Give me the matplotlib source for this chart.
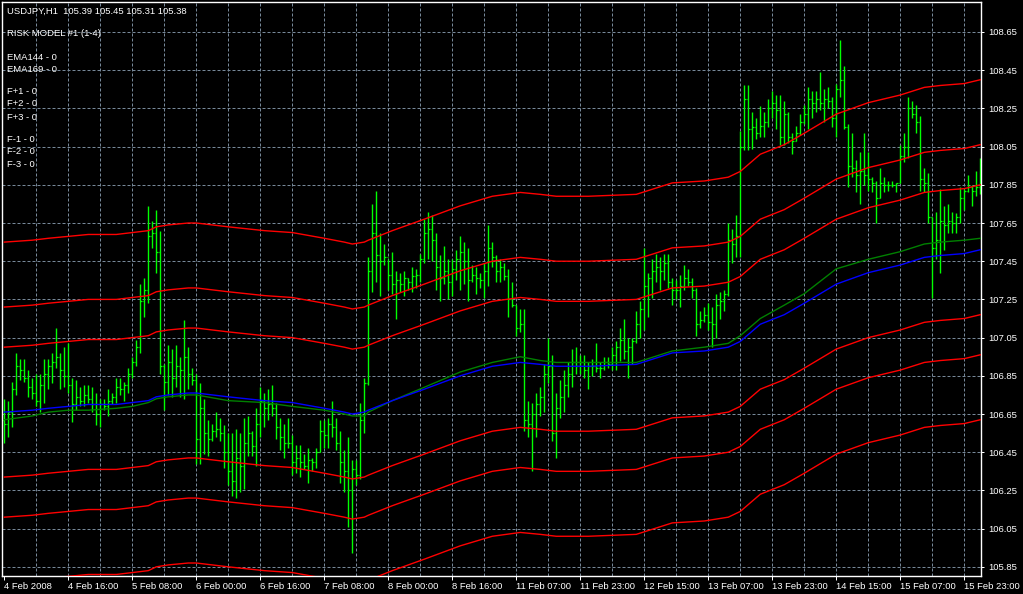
import matplotlib
matplotlib.use('Agg')

import matplotlib.pyplot as plt
import numpy as np

# USDJPY H1 bars (one value per hourly bar)
highs = [
    106.73, 106.72, 106.82, 106.97, 106.94, 106.94, 106.88, 106.84, 106.86, 106.86, 106.94, 106.94, 106.97, 107.10, 106.97, 107.00,
    107.02, 106.84, 106.83, 106.79, 106.80, 106.80, 106.79, 106.76, 106.73, 106.73, 106.78, 106.76, 106.84, 106.84, 106.82, 106.89,
    106.95, 107.04, 107.33, 107.36, 107.74, 107.66, 107.72, 107.61, 106.91, 107.01, 106.99, 107.01, 106.95, 107.14, 107.00, 106.89,
    106.86, 106.81, 106.73, 106.62, 106.60, 106.66, 106.63, 106.59, 106.55, 106.55, 106.57, 106.55, 106.63, 106.64, 106.56, 106.68,
    106.79, 106.76, 106.78, 106.80, 106.71, 106.63, 106.60, 106.63, 106.54, 106.49, 106.49, 106.44, 106.47, 106.42, 106.47, 106.62,
    106.62, 106.63, 106.72, 106.63, 106.56, 106.46, 106.53, 106.41, 106.41, 106.71, 106.84, 107.47, 107.75, 107.82, 107.60, 107.54,
    107.46, 107.50, 107.40, 107.39, 107.40, 107.36, 107.42, 107.41, 107.49, 107.67, 107.71, 107.69, 107.60, 107.48, 107.53, 107.46,
    107.46, 107.51, 107.58, 107.55, 107.52, 107.43, 107.42, 107.39, 107.44, 107.64, 107.55, 107.48, 107.46, 107.44, 107.41, 107.34,
    107.22, 107.20, 107.20, 106.72, 106.71, 106.76, 106.79, 106.91, 107.05, 106.96, 106.76, 106.83, 106.88, 106.92, 106.99, 107.00,
    106.96, 106.96, 106.92, 106.94, 107.02, 106.92, 106.95, 106.95, 107.00, 107.03, 107.10, 107.15, 107.05, 107.05, 107.19, 107.24,
    107.52, 107.39, 107.46, 107.49, 107.47, 107.49, 107.49, 107.36, 107.35, 107.38, 107.43, 107.41, 107.36, 107.31, 107.19, 107.21,
    107.23, 107.21, 107.28, 107.29, 107.30, 107.65, 107.62, 107.69, 108.13, 108.37, 108.37, 108.23, 108.20, 108.26, 108.23, 108.30,
    108.34, 108.32, 108.32, 108.29, 108.23, 108.12, 108.16, 108.22, 108.27, 108.36, 108.34, 108.34, 108.44, 108.35, 108.36, 108.31,
    108.38, 108.61, 108.47, 108.17, 108.12, 107.98, 108.02, 108.12, 108.02, 107.89, 107.87, 107.94, 107.89, 107.87, 107.87, 107.86,
    108.06, 108.12, 108.31, 108.29, 108.27, 108.21, 107.94, 107.91, 107.68, 107.71, 107.83, 107.74, 107.75, 107.71, 107.70, 107.84,
    107.83, 107.90, 107.85, 107.92, 107.99,
]
lows = [
    106.50, 106.53, 106.58, 106.75, 106.83, 106.82, 106.74, 106.73, 106.69, 106.66, 106.71, 106.78, 106.81, 106.89, 106.78, 106.79,
    106.76, 106.61, 106.67, 106.69, 106.69, 106.71, 106.66, 106.59, 106.58, 106.67, 106.64, 106.70, 106.71, 106.75, 106.72, 106.76,
    106.84, 106.90, 106.97, 107.16, 107.23, 107.52, 107.39, 106.86, 106.67, 106.75, 106.74, 106.79, 106.74, 106.73, 106.78, 106.80,
    106.39, 106.39, 106.44, 106.43, 106.51, 106.53, 106.51, 106.37, 106.28, 106.22, 106.21, 106.24, 106.26, 106.43, 106.43, 106.38,
    106.53, 106.58, 106.62, 106.64, 106.52, 106.46, 106.42, 106.47, 106.33, 106.34, 106.32, 106.36, 106.29, 106.35, 106.37, 106.45,
    106.47, 106.47, 106.53, 106.46, 106.29, 106.24, 106.06, 105.92, 106.28, 106.31, 106.55, 106.80, 107.29, 107.34, 107.27, 107.43,
    107.30, 107.28, 107.15, 107.29, 107.27, 107.30, 107.29, 107.31, 107.34, 107.44, 107.46, 107.45, 107.30, 107.24, 107.33, 107.25,
    107.27, 107.35, 107.30, 107.33, 107.24, 107.34, 107.28, 107.31, 107.26, 107.32, 107.42, 107.34, 107.34, 107.35, 107.16, 107.21,
    107.06, 107.08, 106.56, 106.53, 106.35, 106.53, 106.64, 106.66, 106.81, 106.51, 106.42, 106.63, 106.66, 106.74, 106.79, 106.86,
    106.86, 106.84, 106.78, 106.85, 106.87, 106.84, 106.88, 106.89, 106.88, 106.88, 106.93, 106.94, 106.84, 106.91, 107.02, 107.05,
    107.09, 107.16, 107.26, 107.34, 107.30, 107.35, 107.31, 107.22, 107.25, 107.21, 107.30, 107.32, 107.26, 107.06, 107.10, 107.13,
    107.09, 107.00, 107.05, 107.15, 107.19, 107.27, 107.44, 107.47, 107.47, 108.03, 108.03, 108.04, 108.09, 108.10, 108.10, 108.15,
    108.20, 108.14, 108.06, 108.06, 108.07, 108.01, 108.08, 108.11, 108.17, 108.14, 108.20, 108.23, 108.24, 108.18, 108.25, 108.15,
    108.10, 108.31, 108.14, 107.84, 107.89, 107.81, 107.75, 107.85, 107.82, 107.81, 107.65, 107.78, 107.81, 107.82, 107.84, 107.81,
    107.86, 107.97, 107.99, 108.20, 108.12, 107.82, 107.81, 107.65, 107.26, 107.46, 107.39, 107.51, 107.60, 107.60, 107.60, 107.65,
    107.72, 107.81, 107.74, 107.79, 107.80,
]
closes = [
    106.60, 106.66, 106.78, 106.90, 106.88, 106.84, 106.79, 106.76, 106.72, 106.80, 106.86, 106.90, 106.92, 106.95, 106.88, 106.85,
    106.80, 106.70, 106.74, 106.72, 106.75, 106.73, 106.70, 106.65, 106.70, 106.69, 106.72, 106.74, 106.79, 106.78, 106.80, 106.86,
    106.92, 107.00, 107.24, 107.30, 107.58, 107.60, 107.50, 106.90, 106.82, 106.92, 106.84, 106.90, 106.88, 106.95, 106.86, 106.83,
    106.52, 106.68, 106.55, 106.52, 106.56, 106.57, 106.55, 106.45, 106.35, 106.30, 106.42, 106.38, 106.50, 106.55, 106.48, 106.60,
    106.72, 106.68, 106.70, 106.68, 106.58, 106.53, 106.50, 106.50, 106.40, 106.42, 106.40, 106.38, 106.41, 106.40, 106.45, 106.56,
    106.54, 106.60, 106.58, 106.50, 106.40, 106.35, 106.25, 106.36, 106.33, 106.62, 106.81, 107.40, 107.60, 107.48, 107.45, 107.47,
    107.38, 107.33, 107.35, 107.33, 107.36, 107.34, 107.37, 107.38, 107.46, 107.60, 107.62, 107.56, 107.42, 107.36, 107.40, 107.34,
    107.41, 107.46, 107.50, 107.45, 107.35, 107.38, 107.36, 107.35, 107.40, 107.52, 107.47, 107.40, 107.42, 107.37, 107.25, 107.22,
    107.10, 107.12, 106.62, 106.60, 106.65, 106.70, 106.74, 106.86, 106.90, 106.55, 106.68, 106.74, 106.80, 106.86, 106.92, 106.90,
    106.92, 106.88, 106.90, 106.90, 106.89, 106.89, 106.92, 106.91, 106.96, 107.00, 107.04, 106.98, 107.00, 107.03, 107.12, 107.20,
    107.32, 107.36, 107.40, 107.42, 107.40, 107.44, 107.34, 107.30, 107.30, 107.32, 107.36, 107.34, 107.30, 107.12, 107.14, 107.17,
    107.13, 107.12, 107.22, 107.24, 107.28, 107.56, 107.54, 107.58, 108.05, 108.30, 108.14, 108.15, 108.12, 108.16, 108.18, 108.25,
    108.28, 108.24, 108.10, 108.22, 108.10, 108.08, 108.12, 108.18, 108.22, 108.30, 108.28, 108.30, 108.28, 108.30, 108.29, 108.20,
    108.35, 108.40, 108.15, 107.95, 107.94, 107.90, 107.92, 107.90, 107.88, 107.86, 107.78, 107.86, 107.85, 107.85, 107.85, 107.86,
    108.00, 108.05, 108.25, 108.22, 108.18, 107.88, 107.86, 107.68, 107.52, 107.56, 107.66, 107.64, 107.66, 107.65, 107.68, 107.78,
    107.82, 107.84, 107.82, 107.84, 107.88,
]
first_open = 106.62
# hourly FX bars open where the previous one closed
opens = [first_open] + closes[:-1]

# moving averages, sampled at these bar numbers
ema_bars = [0, 7, 11, 16, 21, 28, 32, 36, 38, 41, 46, 48, 56, 65, 72, 80, 85, 87, 90, 91,
            97, 105, 114, 122, 129, 134, 138, 146, 158, 167, 175, 181, 184, 189, 195, 200,
            208, 216, 224, 230, 234, 240, 244]
ema_blue = [106.66, 106.67, 106.68, 106.69, 106.70, 106.70, 106.71, 106.72, 106.74, 106.75,
            106.76, 106.76, 106.74, 106.72, 106.71, 106.68, 106.66, 106.65, 106.66, 106.67,
            106.72, 106.78, 106.85, 106.90, 106.92, 106.91, 106.90, 106.90, 106.91, 106.97,
            106.98, 107.00, 107.03, 107.12, 107.17, 107.23, 107.33, 107.39, 107.43, 107.47,
            107.48, 107.49, 107.51]
ema_green = [106.62, 106.64, 106.66, 106.67, 106.67, 106.68, 106.69, 106.71, 106.73, 106.74,
             106.75, 106.75, 106.72, 106.71, 106.69, 106.67, 106.65, 106.64, 106.64, 106.66,
             106.72, 106.79, 106.87, 106.92, 106.95, 106.93, 106.92, 106.92, 106.92, 106.98,
             107.00, 107.02, 107.06, 107.15, 107.22, 107.28, 107.41, 107.46, 107.50, 107.54,
             107.55, 107.56, 107.57]
# F+3, F+2, F+1, F-1, F-2, F-3 distance from the blue line (price units)
band_offsets = [0.89, 0.55, 0.34, -0.34, -0.55, -0.89]

date_bars = list(range(0, 241, 16))
date_labels = ["4 Feb 2008", "4 Feb 16:00", "5 Feb 08:00", "6 Feb 00:00", "6 Feb 16:00",
               "7 Feb 08:00", "8 Feb 00:00", "8 Feb 16:00", "11 Feb 07:00", "11 Feb 23:00",
               "12 Feb 15:00", "13 Feb 07:00", "13 Feb 23:00", "14 Feb 15:00", "15 Feb 07:00",
               "15 Feb 23:00"]
price_ticks = [105.85, 106.05, 106.25, 106.45, 106.65, 106.85, 107.05, 107.25,
               107.45, 107.65, 107.85, 108.05, 108.25, 108.45, 108.65]

info_lines = [
    ("USDJPY,H1  105.39 105.45 105.31 105.38", 11),
    ("RISK MODEL #1 (1-4)", 33),
    ("EMA144 - 0", 57),
    ("EMA169 - 0", 69),
    ("F+1 - 0", 92),
    ("F+2 - 0", 104),
    ("F+3 - 0", 117),
    ("F-1 - 0", 140),
    ("F-2 - 0", 152),
    ("F-3 - 0", 164),
]

FONT = "Liberation Sans"
W, H = 1023, 594
grid_col = "#778899"
px = 0.72  # one pixel in points at dpi 100

fig = plt.figure(figsize=(W / 100, H / 100), dpi=100, facecolor="black")
ax = fig.add_axes([2 / W, 18 / H, 979 / W, 574 / H])
ax.set_facecolor("black")

ax.set_xlim(-0.575, 244.18)
ax.set_ylim(105.802, 108.807)

# grid
for p in price_ticks:
    ax.axhline(p, color=grid_col, lw=px, ls=(0, (3, 2)), zorder=1)
for b in range(8, len(highs), 8):
    ax.axvline(b, color=grid_col, lw=px, ls=(0, (3, 2)), zorder=1)

# OHLC bars
x = np.arange(len(highs))
bar_col = "#00ff00"
ax.vlines(x, lows, highs, color=bar_col, lw=1.0, zorder=2)
ax.hlines(opens, x - 0.35, x, color=bar_col, lw=0.9, zorder=2)
ax.hlines(closes, x, x + 0.35, color=bar_col, lw=0.9, zorder=2)

# indicator lines
blue = np.array(ema_blue)
for off in band_offsets:
    ax.plot(ema_bars, blue + off, color="#ff0000", lw=1.0, zorder=3)
ax.plot(ema_bars, ema_green, color="#008000", lw=1.0, zorder=3)
ax.plot(ema_bars, ema_blue, color="#0000ff", lw=1.0, zorder=3)

# axes styling
for s in ax.spines.values():
    s.set_color("white")
    s.set_linewidth(1.0)

ax.yaxis.tick_right()
ax.set_yticks(price_ticks)
ax.set_yticklabels([f"{p:.2f}" for p in price_ticks])
ax.set_xticks(date_bars)
ax.set_xticklabels(date_labels)
ax.tick_params(axis="both", colors="white", width=px, labelsize=6.8)
ax.tick_params(axis="x", length=3, pad=1.5)
ax.tick_params(axis="y", length=2.5, pad=3)
for lbl in ax.get_xticklabels():
    lbl.set_ha("left")
    lbl.set_family(FONT)
for lbl in ax.get_yticklabels():
    lbl.set_family(FONT)

for txt, ypix in info_lines:
    fig.text(7 / W, 1 - ypix / H, txt, color="white", fontsize=6.8, family=FONT,
             ha="left", va="center")

plt.savefig("out.png", dpi=100, facecolor="black")
plt.close("all")
